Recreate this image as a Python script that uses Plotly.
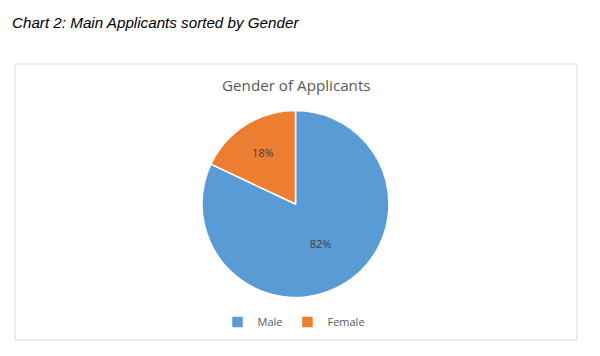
import plotly.graph_objects as go

labels = ["Male", "Female"]
values = [82, 18]
colors = ["#5B9BD5", "#ED7D31"]

W, H = 600, 356
cx, cy, r = 295.5, 204, 93.5

fig = go.Figure(go.Pie(
    labels=labels, values=values, sort=False, direction="clockwise", rotation=0,
    marker=dict(colors=colors, line=dict(color="white", width=1.5)),
    textinfo="percent", texttemplate="%{percent:.0%}", textposition="inside",
    insidetextorientation="horizontal",
    textfont=dict(family="Open Sans", size=11, color="#404040"),
    domain=dict(x=[(cx - r) / W, (cx + r) / W], y=[(H - cy - r) / H, (H - cy + r) / H]),
    hoverinfo="label+percent",
))

fig.update_layout(
    width=W, height=H, margin=dict(l=0, r=0, t=0, b=0),
    paper_bgcolor="white", plot_bgcolor="white",
    showlegend=True,
    legend=dict(orientation="h", x=294 / W, xanchor="center", y=(H - 322) / H, yanchor="middle",
                font=dict(family="Open Sans", size=11, color="#595959"),
                itemwidth=30, tracegroupgap=0),
    shapes=[dict(type="rect", xref="paper", yref="paper",
                 x0=15 / W, x1=577 / W, y0=(H - 340) / H, y1=(H - 64) / H,
                 line=dict(color="#D9D9D9", width=1), layer="below")],
    annotations=[
        dict(text="<i>Chart 2: Main Applicants sorted by Gender</i>", xref="paper", yref="paper",
             x=10 / W, y=(H - 22) / H, xanchor="left", yanchor="middle", showarrow=False,
             font=dict(family="Liberation Sans", size=15.2, color="black")),
        dict(text="Gender of Applicants", xref="paper", yref="paper",
             x=296 / W, y=(H - 85) / H, xanchor="center", yanchor="middle", showarrow=False,
             font=dict(family="Open Sans", size=15.2, color="#595959")),
    ],
)

fig.write_html("out.html", config={"displayModeBar": False},
               post_script="document.body.style.margin='0';")
